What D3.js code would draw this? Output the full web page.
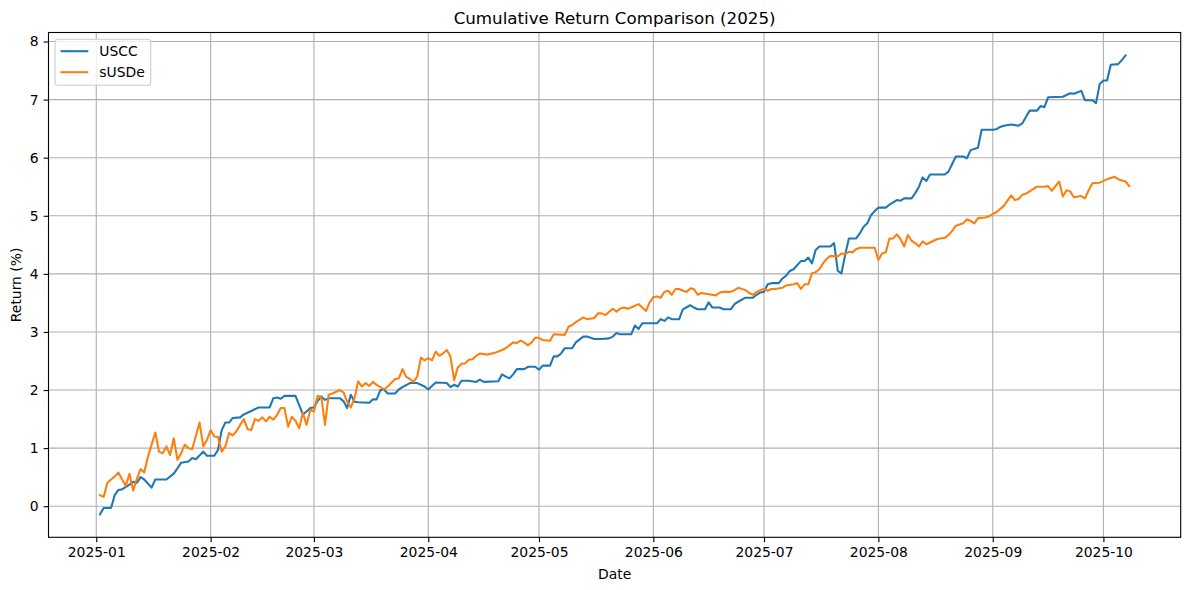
<!DOCTYPE html>
<html lang="en">

<head>
    <meta charset="utf-8" />
    <title>Cumulative Return Comparison (2025)</title>
    <script src="https://cdn.jsdelivr.net/npm/d3@7"></script>
    <style>
        body { margin: 0; background: #fff; }
        text { font-family: "DejaVu Sans", sans-serif; fill: #000; }
    </style>
</head>

<body>
    <div id='chart'></div>
</body>
<script>

    // each point: [days since startDay, cumulative return in %]
    let startDay = '2025-01-01';
    let monthTicks = ['2025-01', '2025-02', '2025-03', '2025-04', '2025-05', '2025-06', '2025-07', '2025-08', '2025-09', '2025-10'];
    let yTicks = [0, 1, 2, 3, 4, 5, 6, 7, 8];
    let seriesNames = ['USCC', 'sUSDe'];
    let seriesColors = ['#1f77b4', '#ff7f0e'];

    let usccData = [
        [1, -0.14], [2, -0.03], [4, -0.03], [5, 0.19], [6, 0.28], [7, 0.29], [9, 0.37], [10, 0.42], [11, 0.40], [12, 0.50],
        [13, 0.46], [15, 0.32], [16, 0.46], [19, 0.46], [21, 0.56], [22, 0.65], [23, 0.75], [25, 0.77], [26, 0.83], [27, 0.81],
        [29, 0.94], [30, 0.87], [32, 0.87], [33, 0.97], [34, 1.31], [35, 1.44], [36, 1.44], [37, 1.52], [39, 1.53], [40, 1.58],
        [42, 1.64], [44, 1.70], [47, 1.70], [48, 1.86], [49, 1.87], [50, 1.85], [51, 1.90], [54, 1.90], [55, 1.74], [56, 1.58],
        [57, 1.63], [58, 1.69], [59, 1.70], [60, 1.81], [61, 1.89], [62, 1.83], [63, 1.86], [66, 1.86], [67, 1.81], [68, 1.69],
        [69, 1.92], [70, 1.80], [71, 1.79], [74, 1.78], [75, 1.84], [76, 1.84], [77, 2.00], [78, 2.01], [79, 1.94], [81, 1.94],
        [82, 2.01], [83, 2.05], [85, 2.12], [87, 2.12], [89, 2.06], [90, 2.01], [91, 2.07], [92, 2.13], [95, 2.12], [96, 2.05],
        [97, 2.09], [98, 2.06], [99, 2.16], [101, 2.16], [103, 2.14], [104, 2.18], [105, 2.14], [109, 2.15], [110, 2.27], [111, 2.23],
        [112, 2.20], [113, 2.27], [114, 2.36], [116, 2.36], [117, 2.40], [119, 2.40], [120, 2.35], [121, 2.42], [123, 2.42], [124, 2.58],
        [125, 2.58], [126, 2.63], [127, 2.72], [129, 2.72], [130, 2.82], [132, 2.92], [133, 2.92], [135, 2.88], [137, 2.88], [139, 2.89],
        [140, 2.92], [141, 2.98], [142, 2.96], [145, 2.96], [146, 3.11], [147, 3.05], [148, 3.15], [152, 3.15], [153, 3.22], [154, 3.19],
        [155, 3.25], [156, 3.22], [158, 3.22], [159, 3.39], [161, 3.46], [162, 3.42], [163, 3.39], [165, 3.39], [166, 3.51], [167, 3.42],
        [169, 3.42], [170, 3.39], [172, 3.39], [173, 3.48], [174, 3.52], [176, 3.59], [178, 3.59], [179, 3.64], [180, 3.68], [181, 3.69],
        [182, 3.82], [183, 3.84], [185, 3.84], [186, 3.92], [187, 3.97], [188, 4.05], [189, 4.08], [191, 4.22], [192, 4.22], [193, 4.28],
        [194, 4.18], [195, 4.41], [196, 4.47], [199, 4.47], [200, 4.53], [201, 4.05], [202, 4.01], [203, 4.33], [204, 4.61], [206, 4.61],
        [207, 4.70], [208, 4.81], [209, 4.87], [210, 5.01], [211, 5.08], [212, 5.14], [214, 5.14], [215, 5.19], [216, 5.23], [217, 5.27],
        [218, 5.26], [219, 5.30], [221, 5.30], [222, 5.39], [223, 5.50], [224, 5.66], [225, 5.60], [226, 5.71], [230, 5.71], [231, 5.76],
        [232, 5.89], [233, 6.02], [235, 6.02], [236, 5.99], [237, 6.13], [239, 6.17], [240, 6.48], [243, 6.48], [244, 6.49], [245, 6.53],
        [246, 6.55], [248, 6.57], [250, 6.55], [251, 6.59], [252, 6.70], [253, 6.81], [255, 6.81], [256, 6.89], [257, 6.87], [258, 7.04],
        [262, 7.05], [264, 7.11], [265, 7.10], [267, 7.15], [268, 6.99], [270, 6.99], [271, 6.94], [272, 7.27], [273, 7.33], [274, 7.33],
        [275, 7.60], [277, 7.61], [278, 7.68], [279, 7.76]
    ];

    let susdeData = [
        [1, 0.19], [2, 0.16], [3, 0.40], [4, 0.46], [5, 0.51], [6, 0.58], [7, 0.46], [8, 0.35], [9, 0.56], [10, 0.27],
        [11, 0.47], [12, 0.64], [13, 0.58], [14, 0.85], [16, 1.27], [17, 0.94], [18, 0.91], [19, 1.03], [20, 0.88], [21, 1.17],
        [22, 0.80], [23, 0.91], [24, 1.06], [25, 1.00], [26, 0.98], [28, 1.44], [29, 1.03], [30, 1.14], [31, 1.31], [32, 1.20],
        [33, 1.19], [34, 0.94], [35, 1.03], [36, 1.26], [37, 1.22], [38, 1.29], [39, 1.40], [40, 1.50], [41, 1.33], [42, 1.31],
        [43, 1.50], [44, 1.47], [45, 1.53], [46, 1.46], [47, 1.54], [48, 1.49], [49, 1.57], [50, 1.69], [51, 1.69], [52, 1.37],
        [53, 1.54], [54, 1.47], [55, 1.34], [56, 1.61], [57, 1.40], [58, 1.66], [59, 1.63], [60, 1.90], [61, 1.88], [62, 1.40],
        [63, 1.92], [64, 1.94], [66, 2.00], [67, 1.96], [68, 1.80], [69, 1.70], [70, 1.86], [71, 2.15], [72, 2.06], [73, 2.12],
        [74, 2.07], [75, 2.14], [76, 2.09], [77, 2.05], [78, 2.01], [79, 2.06], [81, 2.19], [82, 2.20], [83, 2.36], [84, 2.23],
        [85, 2.19], [86, 2.14], [87, 2.23], [88, 2.56], [89, 2.51], [90, 2.55], [91, 2.51], [92, 2.66], [93, 2.59], [94, 2.63],
        [95, 2.69], [96, 2.58], [97, 2.17], [98, 2.39], [99, 2.45], [100, 2.46], [101, 2.52], [102, 2.53], [103, 2.59], [104, 2.63],
        [106, 2.61], [108, 2.64], [110, 2.69], [111, 2.72], [112, 2.77], [113, 2.82], [114, 2.81], [115, 2.85], [116, 2.82], [117, 2.77],
        [118, 2.82], [119, 2.90], [120, 2.90], [121, 2.86], [123, 2.85], [124, 2.96], [127, 2.95], [128, 3.09], [129, 3.12], [130, 3.17],
        [132, 3.25], [133, 3.22], [135, 3.24], [136, 3.32], [137, 3.32], [138, 3.29], [140, 3.40], [141, 3.35], [142, 3.40], [143, 3.42],
        [144, 3.40], [145, 3.42], [146, 3.45], [147, 3.48], [149, 3.36], [150, 3.51], [151, 3.60], [152, 3.61], [153, 3.59], [154, 3.69],
        [155, 3.71], [156, 3.64], [157, 3.74], [158, 3.74], [159, 3.71], [160, 3.69], [161, 3.75], [162, 3.74], [163, 3.64], [164, 3.67],
        [166, 3.65], [168, 3.63], [169, 3.68], [170, 3.69], [172, 3.69], [173, 3.72], [174, 3.76], [176, 3.72], [177, 3.67], [178, 3.64],
        [179, 3.69], [180, 3.72], [181, 3.74], [182, 3.71], [183, 3.74], [184, 3.74], [186, 3.76], [187, 3.80], [189, 3.82], [190, 3.84],
        [191, 3.74], [192, 3.82], [193, 3.82], [194, 4.01], [195, 4.03], [196, 4.08], [197, 4.18], [198, 4.26], [199, 4.31], [201, 4.30],
        [202, 4.35], [203, 4.34], [204, 4.38], [205, 4.37], [206, 4.43], [207, 4.45], [211, 4.45], [212, 4.24], [213, 4.35], [214, 4.37],
        [215, 4.61], [216, 4.61], [217, 4.68], [218, 4.60], [219, 4.47], [220, 4.67], [221, 4.57], [222, 4.53], [223, 4.47], [224, 4.56],
        [225, 4.51], [227, 4.57], [228, 4.60], [230, 4.62], [231, 4.67], [232, 4.74], [233, 4.83], [235, 4.87], [236, 4.94], [237, 4.91],
        [238, 4.87], [239, 4.96], [241, 4.97], [242, 4.99], [243, 5.03], [244, 5.06], [246, 5.17], [247, 5.26], [248, 5.35], [249, 5.27],
        [250, 5.29], [251, 5.36], [252, 5.38], [253, 5.42], [255, 5.50], [257, 5.50], [258, 5.51], [259, 5.43], [261, 5.59], [262, 5.33],
        [263, 5.44], [264, 5.42], [265, 5.32], [267, 5.34], [268, 5.30], [269, 5.44], [270, 5.56], [272, 5.57], [274, 5.63], [276, 5.67],
        [277, 5.63], [279, 5.59], [280, 5.51]
    ];

    // matplotlib-ish sizes at 100 dpi
    let margin = { top: 32.5, right: 8.3, bottom: 52.7, left: 48.5 };
    let width = 1189 - margin.left - margin.right,
        height = 590 - margin.top - margin.bottom;
    let fontSize = 13.9;

    let svg = d3.select('#chart')
        .append('svg')
        .attr('width', 1189)
        .attr('height', 590);

    let g = svg.append('g')
        .attr('transform', 'translate(' + margin.left + ',' + margin.top + ')');

    let parseDay = d3.utcParse('%Y-%m-%d'),
        parseMonth = d3.utcParse('%Y-%m');
    let start = parseDay(startDay);

    let series = [usccData, susdeData].map((pts, i) => {
        return {
            name: seriesNames[i],
            color: seriesColors[i],
            values: pts.map(p => ({ date: d3.utcDay.offset(start, p[0]), value: p[1] }))
        };
    });

    let allPts = series.flatMap(s => s.values);

    // 5% padding on each side like matplotlib autoscale
    let xExt = d3.extent(allPts, d => d.date),
        xPad = (xExt[1] - xExt[0]) * 0.05;
    let yExt = d3.extent(allPts, d => d.value),
        yPad = (yExt[1] - yExt[0]) * 0.05;

    let x = d3.scaleUtc()
        .domain([new Date(+xExt[0] - xPad), new Date(+xExt[1] + xPad)])
        .range([0, width]);

    let y = d3.scaleLinear()
        .domain([yExt[0] - yPad, yExt[1] + yPad])
        .range([height, 0]);

    let xTickDates = monthTicks.map(m => parseMonth(m));

    // grid
    g.append('g')
        .selectAll('line')
        .data(xTickDates)
        .enter().append('line')
        .attr('x1', d => x(d)).attr('x2', d => x(d))
        .attr('y1', 0).attr('y2', height)
        .attr('stroke', '#b0b0b0')
        .attr('stroke-width', 1.1);
    g.append('g')
        .selectAll('line')
        .data(yTicks)
        .enter().append('line')
        .attr('x1', 0).attr('x2', width)
        .attr('y1', d => y(d)).attr('y2', d => y(d))
        .attr('stroke', '#b0b0b0')
        .attr('stroke-width', 1.1);

    // lines
    let line = d3.line()
        .x(d => x(d.date))
        .y(d => y(d.value));

    g.selectAll('.series')
        .data(series)
        .enter().append('path')
        .attr('class', 'series')
        .attr('d', d => line(d.values))
        .attr('fill', 'none')
        .attr('stroke', d => d.color)
        .attr('stroke-width', 2.08)
        .attr('stroke-linejoin', 'round')
        .attr('stroke-linecap', 'square');

    // axes
    let xAxis = d3.axisBottom(x)
        .tickValues(xTickDates)
        .tickFormat(d3.utcFormat('%Y-%m'))
        .tickSize(4.9)
        .tickPadding(4.9);
    let yAxis = d3.axisLeft(y)
        .tickValues(yTicks)
        .tickFormat(d3.format('d'))
        .tickSize(4.9)
        .tickPadding(4.9);

    let gx = g.append('g')
        .attr('transform', 'translate(0,' + height + ')')
        .call(xAxis);
    let gy = g.append('g')
        .call(yAxis);

    [gx, gy].forEach(a => {
        a.select('.domain').remove();
        a.selectAll('.tick line').attr('stroke', '#000').attr('stroke-width', 1.1);
        a.selectAll('.tick text')
            .attr('fill', '#000')
            .style('font-size', fontSize + 'px')
            .style('font-family', '"DejaVu Sans", sans-serif');
    });

    // spines
    g.append('rect')
        .attr('width', width)
        .attr('height', height)
        .attr('fill', 'none')
        .attr('stroke', '#000')
        .attr('stroke-width', 1.1);

    // title and labels
    g.append('text')
        .attr('x', width / 2)
        .attr('y', -8.3)
        .attr('text-anchor', 'middle')
        .style('font-size', '16.7px')
        .text('Cumulative Return Comparison (2025)');

    g.append('text')
        .attr('x', width / 2)
        .attr('y', height + 42)
        .attr('text-anchor', 'middle')
        .style('font-size', fontSize + 'px')
        .text('Date');

    g.append('text')
        .attr('transform', 'translate(' + (21 - margin.left) + ',' + (height / 2) + ') rotate(-90)')
        .attr('text-anchor', 'middle')
        .style('font-size', fontSize + 'px')
        .text('Return (%)');

    // legend
    let legend = g.append('g')
        .attr('transform', 'translate(6.5,6.8)');
    legend.append('rect')
        .attr('width', 95.7)
        .attr('height', 46)
        .attr('rx', 2.8)
        .attr('fill', 'rgba(255,255,255,0.8)')
        .attr('stroke', '#cccccc')
        .attr('stroke-width', 1.1);
    let items = legend.selectAll('.item')
        .data(series)
        .enter().append('g')
        .attr('class', 'item')
        .attr('transform', (d, i) => 'translate(0,' + (11.9 + i * 21) + ')');
    items.append('line')
        .attr('x1', 5.5).attr('x2', 33.3)
        .attr('stroke', d => d.color)
        .attr('stroke-width', 2.08);
    items.append('text')
        .attr('x', 44.3)
        .attr('dy', '0.36em')
        .style('font-size', fontSize + 'px')
        .text(d => d.name);

</script>

</html>
